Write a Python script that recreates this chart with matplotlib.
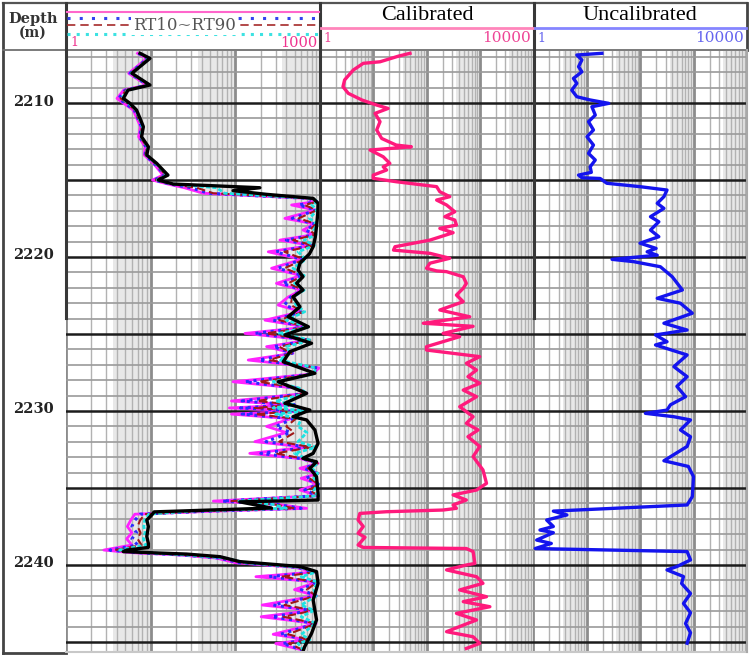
import matplotlib.pyplot as plt
from matplotlib.transforms import blended_transform_factory

# ---- depth / resistivity picks (ohm.m) ----
# RT90 (deep, black)
rt90_depth = [2206.77, 2207.10, 2208.07, 2208.83, 2209.16, 2209.70, 2210.02, 2210.45, 2211.00,
              2211.54, 2212.19, 2212.84, 2213.38, 2213.92, 2214.35, 2214.68, 2215.00, 2215.26,
              2215.50, 2215.69, 2215.93, 2216.19, 2216.51, 2217.20, 2218.00, 2218.70, 2219.33,
              2219.80, 2220.20, 2220.40, 2220.84, 2221.28, 2221.70, 2222.14, 2222.58, 2223.23,
              2223.88, 2224.53, 2225.06, 2225.60, 2226.15, 2226.80, 2227.55, 2228.10, 2228.85,
              2229.50, 2229.94, 2230.37, 2230.58, 2231.23, 2232.10, 2232.75, 2233.07, 2233.30,
              2233.72, 2234.27, 2235.35, 2235.78, 2235.90, 2236.30, 2236.55, 2236.75, 2237.08,
              2237.50, 2238.15, 2238.60, 2238.86, 2239.03, 2239.13, 2239.20, 2239.29, 2239.46,
              2239.78, 2240.10, 2240.43, 2241.19, 2242.27, 2243.57, 2244.44, 2245.30, 2245.50]
rt90 = [7.5, 9.8, 6.0, 9.8, 5.4, 4.75, 5.7, 6.8, 7.5,
        8.2, 7.8, 9.4, 9.0, 11.8, 14, 16, 12.3, 18.5,
        195, 94, 235, 830, 950, 940, 910, 880, 830,
        750, 630, 580, 550, 630, 530, 630, 480, 580,
        420, 730, 385, 795, 440, 368, 870, 321, 695,
        385, 760, 480, 695, 870, 950, 830, 630, 910,
        760, 910, 950, 950, 113, 267, 11, 10.3, 9.0,
        9.4, 9.0, 9.4, 9.4, 5.2, 4.75, 9.8, 26.6, 66,
        113, 580, 910, 950, 830, 910, 795, 660, 640]

# RT10 / RT20 / RT30 / RT60 share one depth list
rt_depth = [2206.77, 2207.10, 2208.07, 2208.83, 2209.16, 2209.70, 2210.02, 2210.45, 2211.54, 2212.19,
            2212.84, 2213.38, 2213.92, 2214.35, 2214.68, 2215.00, 2215.26, 2215.50, 2215.86, 2216.19,
            2216.40, 2216.62, 2216.95, 2217.49, 2217.85, 2218.25, 2218.55, 2218.90, 2219.25, 2219.66,
            2220.15, 2220.73, 2221.20, 2221.71, 2222.15, 2222.60, 2223.12, 2223.55, 2224.10, 2224.55,
            2224.96, 2225.40, 2225.82, 2226.25, 2226.69, 2227.20, 2227.60, 2228.10, 2228.50, 2228.85,
            2229.35, 2229.60, 2229.80, 2230.00, 2230.20, 2230.50, 2231.00, 2231.40, 2231.99, 2232.35,
            2232.75, 2233.10, 2233.40, 2233.72, 2234.05, 2234.37, 2234.75, 2235.13, 2235.50, 2235.85,
            2236.05, 2236.32, 2236.50, 2236.70, 2237.10, 2237.50, 2237.90, 2238.30, 2238.70, 2239.03,
            2239.20, 2239.35, 2239.55, 2239.85, 2240.15, 2240.45, 2240.76, 2241.10, 2241.60, 2242.00,
            2242.60, 2242.95, 2243.36, 2243.80, 2244.50, 2244.85, 2245.10, 2245.50]
rt10 = [7.0, 9.0, 5.5, 9.0, 4.8, 4.0, 4.8, 6.2, 7.6, 7.2,
        8.6, 8.4, 10.8, 12.5, 14.0, 10.5, 16, 25, 42, 700,
        900, 462, 880, 385, 860, 630, 850, 336, 800, 245,
        600, 268, 600, 306, 600, 420, 321, 600, 224, 700,
        130, 750, 234, 480, 142, 980, 800, 94, 500, 700,
        90, 500, 85, 600, 90, 450, 234, 400, 170, 700,
        148, 600, 950, 580, 950, 600, 960, 580, 960, 55,
        300, 695, 60, 6.5, 5.8, 5.3, 6.0, 5.2, 6.0, 2.8,
        6.0, 22, 60, 100, 500, 880, 175, 930, 500, 900,
        208, 820, 202, 900, 280, 700, 300, 600]
rt20 = [7.2, 9.2, 5.7, 9.2, 5.0, 4.2, 5.0, 6.4, 7.8, 7.4,
        8.8, 8.6, 11.0, 13.0, 14.5, 11.0, 17, 30, 48, 740,
        920, 560, 900, 470, 880, 680, 870, 400, 820, 300,
        620, 320, 620, 360, 620, 450, 380, 620, 280, 710,
        170, 760, 280, 470, 190, 950, 810, 130, 520, 700,
        120, 500, 115, 620, 120, 480, 300, 450, 230, 750,
        200, 620, 950, 650, 950, 680, 960, 660, 960, 70,
        300, 600, 50, 7.5, 6.5, 6.0, 6.8, 6.0, 7.0, 3.3,
        7.0, 24, 65, 110, 540, 890, 250, 930, 600, 900,
        280, 830, 270, 900, 340, 720, 360, 610]
rt30 = [7.3, 9.4, 5.8, 9.5, 5.1, 4.4, 5.3, 6.5, 7.9, 7.5,
        9.0, 8.7, 11.3, 13.3, 15.0, 11.5, 17.5, 35, 55, 780,
        940, 650, 920, 560, 900, 750, 880, 480, 840, 380,
        650, 380, 640, 420, 640, 470, 450, 640, 330, 720,
        230, 770, 330, 460, 250, 920, 820, 190, 540, 700,
        180, 500, 170, 640, 170, 520, 400, 500, 330, 800,
        300, 640, 940, 720, 950, 750, 960, 740, 960, 90,
        280, 500, 40, 8.5, 7.5, 7.0, 7.6, 7.0, 7.8, 3.8,
        8.0, 25, 70, 120, 560, 900, 350, 930, 700, 900,
        380, 840, 370, 900, 420, 740, 430, 620]
rt60 = [7.4, 9.6, 5.9, 9.6, 5.3, 4.6, 5.5, 6.7, 8.0, 7.7,
        9.2, 8.9, 11.5, 13.7, 15.5, 12.0, 18, 60, 75, 800,
        950, 800, 930, 750, 920, 850, 900, 650, 860, 550,
        680, 480, 650, 500, 650, 480, 520, 660, 400, 730,
        330, 780, 400, 450, 330, 890, 840, 280, 560, 700,
        300, 500, 280, 700, 300, 600, 550, 700, 550, 900,
        500, 700, 930, 800, 940, 850, 950, 850, 950, 110,
        270, 400, 30, 9.5, 8.5, 8.3, 8.6, 8.2, 8.8, 4.3,
        9.0, 26, 75, 130, 580, 910, 600, 930, 850, 900,
        600, 850, 600, 900, 600, 760, 550, 630]

# calibrated array resistivity
cal_depth = [2206.77, 2206.95, 2207.32, 2207.42, 2207.86, 2208.50, 2208.94, 2209.37, 2209.80, 2210.13,
             2210.35, 2210.67, 2211.21, 2211.75, 2212.30, 2212.73, 2212.84, 2213.05, 2213.49, 2213.92,
             2214.14, 2214.35, 2214.68, 2214.89, 2215.11, 2215.43, 2215.76, 2216.08, 2216.30, 2216.62,
             2217.06, 2217.38, 2217.60, 2217.92, 2218.14, 2218.42, 2218.90, 2219.33, 2219.55, 2219.76,
             2220.08, 2220.40, 2220.73, 2220.90, 2220.95, 2221.28, 2221.71, 2222.03, 2222.47, 2222.90,
             2223.44, 2223.88, 2224.30, 2224.50, 2224.96, 2225.17, 2225.82, 2226.04, 2226.47, 2226.90,
             2227.34, 2227.77, 2228.20, 2228.64, 2229.07, 2229.72, 2230.37, 2230.80, 2231.23, 2231.67,
             2232.30, 2232.96, 2233.83, 2234.70, 2235.13, 2235.45, 2235.78, 2236.10, 2236.32, 2236.43,
             2236.54, 2236.65, 2237.08, 2237.50, 2237.94, 2238.20, 2238.70, 2238.86, 2238.93, 2239.13,
             2239.90, 2240.00, 2240.32, 2240.76, 2241.19, 2241.62, 2242.06, 2242.38, 2242.71, 2243.14,
             2243.57, 2244.33, 2244.66, 2245.09, 2245.42]
cal = [49, 30, 13.4, 6.5, 4.2, 2.9, 2.7, 3.4, 6.1, 11.6,
       19, 10.8, 13.4, 11.6, 14.4, 27, 52, 8.7, 15.4, 20.5,
       15.4, 17.8, 10, 10, 27, 155, 178, 274, 155, 238,
       340, 221, 340, 365, 178, 316, 116, 25.6, 24, 116,
       274, 116, 100, 155, 238, 490, 560, 490, 365, 490,
       178, 650, 87, 750, 205, 420, 100, 100, 1000, 560,
       870, 600, 1000, 490, 870, 420, 750, 560, 930, 600,
       1000, 750, 1150, 1340, 870, 316, 560, 316, 365, 205,
       17.8, 5.6, 5.2, 6.5, 5.2, 7.0, 5.2, 6.5, 560, 750,
       810, 560, 238, 870, 1150, 420, 1340, 490, 1550, 365,
       870, 238, 750, 1000, 560]

# uncalibrated array resistivity
unc_depth = [2206.77, 2206.88, 2207.20, 2207.64, 2207.97, 2208.40, 2208.72, 2209.16, 2209.59, 2209.80,
             2210.02, 2210.24, 2210.78, 2211.21, 2211.75, 2212.19, 2212.73, 2213.27, 2213.70, 2214.14,
             2214.50, 2214.68, 2214.85, 2214.90, 2215.21, 2215.43, 2215.65, 2216.08, 2216.51, 2216.84,
             2217.38, 2217.71, 2218.25, 2218.68, 2219.10, 2219.44, 2219.66, 2219.88, 2220.15, 2220.30,
             2220.63, 2221.28, 2222.14, 2222.68, 2223.00, 2223.65, 2224.30, 2224.74, 2225.06, 2225.50,
             2225.71, 2226.36, 2227.12, 2227.77, 2228.40, 2229.07, 2229.60, 2229.94, 2230.15, 2230.37,
             2230.58, 2231.23, 2231.67, 2232.30, 2233.23, 2233.60, 2234.26, 2235.56, 2236.10, 2236.50,
             2236.75, 2237.08, 2237.50, 2237.73, 2237.90, 2238.38, 2238.60, 2238.93, 2239.13, 2239.67,
             2240.10, 2240.32, 2240.75, 2241.20, 2241.85, 2242.50, 2243.10, 2243.80, 2244.40, 2245.08]
unc = [19.4, 6.6, 8.2, 7.1, 8.2, 5.7, 6.6, 5.3, 6.6, 11.7,
       26, 12.6, 14.6, 10.9, 13.5, 10.2, 13.5, 10.9, 14.6, 11.7,
       12.3, 7.1, 8.2, 18, 24, 100, 320, 280, 210, 280,
       157, 225, 157, 225, 100, 200, 136, 210, 30, 76,
       240, 400, 620, 210, 570, 950, 280, 760, 195, 320,
       195, 760, 430, 760, 490, 710, 370, 320, 126, 430,
       880, 570, 880, 760, 280, 800, 1000, 950, 760, 2.4,
       4.3, 1.8, 2.4, 1.35, 2.4, 1.17, 2.2, 1.1, 760, 880,
       490, 320, 650, 600, 880, 650, 880, 710, 880, 760]

depth_labels = [2210, 2220, 2230, 2240]

# ---- layout (pixels of a 750 x 659 canvas) ----
W, H = 750, 659
TOP, BOT = 51, 652
D_TOP, D_BOT = 2206.62, 2245.65

fig = plt.figure(figsize=(7.5, 6.59), dpi=100)


def add_track(x0, x1):
    ax = fig.add_axes([x0 / W, 1 - BOT / H, (x1 - x0) / W, (BOT - TOP) / H])
    ax.set_ylim(D_BOT, D_TOP)
    for s in ax.spines.values():
        s.set_visible(False)
    ax.set_xticks([])
    ax.set_yticks([])
    return ax


def log_grid(ax, ndec):
    ax.set_xscale('log')
    ax.set_xlim(1, 10 ** ndec)
    ax.set_xticks([], minor=True)
    ax.set_xticks([])
    for k in range(ndec):
        base = 10 ** k
        ax.axvspan(3.6 * base, 10 * base, color='#e8e8e8', lw=0, zorder=0)
        for m in range(2, 10):
            ax.axvline(m * base, color='#b2b2b2', lw=1.0, zorder=1)
        ax.axvline(base, color='#8c8c8c', lw=2.0, zorder=1)
    for d in range(2207, 2246):
        if d % 5 == 0:
            ax.axhline(d, color='#1c1c1c', lw=1.8, zorder=2)
        else:
            ax.axhline(d, color='#9a9a9a', lw=1.2, zorder=1)


ax_d = add_track(3, 66)
ax1 = add_track(66, 320)
ax2 = add_track(320, 533)
ax3 = add_track(533, 747)

log_grid(ax1, 3)
log_grid(ax2, 4)
log_grid(ax3, 4)

# track 1: RT10 ~ RT90
ax1.plot(rt10, rt_depth, color='#ff22ff', lw=2.0, zorder=3, solid_joinstyle='round')
ax1.plot(rt20, rt_depth, color='#2b2bff', lw=2.2, ls=(0, (1, 1.5)), zorder=4)
ax1.plot(rt30, rt_depth, color='#a01818', lw=1.5, ls=(0, (4, 2)), zorder=5)
ax1.plot(rt60, rt_depth, color='#1de3e3', lw=2.0, ls=(0, (1.5, 0.8)), zorder=6)
ax1.plot(rt90, rt90_depth, color='black', lw=2.4, zorder=7, solid_joinstyle='round')

# tracks 2 and 3
ax2.plot(cal, cal_depth, color='#ff1a7c', lw=2.4, zorder=5, solid_joinstyle='round')
ax3.plot(unc, unc_depth, color='#1414ee', lw=2.4, zorder=5, solid_joinstyle='round')

# depth labels
tr = blended_transform_factory(ax_d.transAxes, ax_d.transData)
for d in depth_labels:
    ax_d.text(0.49, d - 0.1, str(d), transform=tr, ha='center', va='center',
              family='DejaVu Serif', weight='bold', fontsize=10.5, color='#222222')

# ---- overlay: frame and header in pixel units ----
ov = fig.add_axes([0, 0, 1, 1], zorder=10)
ov.set_xlim(0, W)
ov.set_ylim(H, 0)
ov.axis('off')
ov.patch.set_alpha(0)

ov.plot([3, 747], [3, 3], color='#555555', lw=1.6)
ov.plot([3, 3], [3, 653], color='#444444', lw=2.0)
ov.plot([3, 66], [653, 653], color='#444444', lw=2.0)
ov.plot([66, 747], [652, 652], color='#c8c8c8', lw=1.5)
ov.plot([3, 747], [50, 50], color='#6f6f6f', lw=1.3)
ov.plot([747, 747], [3, 50], color='#444444', lw=2.0)
ov.plot([747, 747], [50, 652], color='#a8a8a8', lw=1.5)
for x in [66, 320, 534]:
    ov.plot([x, x], [3, 318], color='#383838', lw=2.2)

# header, depth column
ov.text(33, 19, 'Depth', ha='center', va='center', family='DejaVu Serif',
        weight='bold', fontsize=10.5, color='#333333')
ov.text(33, 33, '(m)', ha='center', va='center', family='DejaVu Serif',
        weight='bold', fontsize=10, color='#333333')

# header, RT10~RT90
ov.plot([67, 319], [12, 12], color='#ff66cc', lw=1.5)
ov.plot([67, 319], [18, 18], color='#3344ee', lw=2.2, ls=(0, (1, 3)))
ov.plot([67, 319], [25, 25], color='#a52a2a', lw=1.2, ls=(0, (5, 3)))
ov.plot([67, 319], [34, 34], color='#3de2e2', lw=2.2, ls=(0, (1, 2)))
ov.text(184, 25, 'RT10~RT90', ha='center', va='center', family='DejaVu Serif',
        fontsize=12, color='#555555',
        bbox=dict(facecolor='white', edgecolor='none', pad=1))
ov.text(70, 43, '1', ha='left', va='center', family='DejaVu Serif',
        fontsize=9, color='#f0338f')
ov.text(318, 43, '1000', ha='right', va='center', family='DejaVu Serif',
        fontsize=10.5, color='#f0338f')

# header, calibrated / uncalibrated
ov.text(427, 16, 'Calibrated', ha='center', va='center', family='Liberation Serif',
        fontsize=16, color='black')
ov.plot([321, 533], [28, 28], color='#ff85bb', lw=2.0)
ov.text(323, 38, '1', ha='left', va='center', family='DejaVu Serif',
        fontsize=9, color='#ee4596')
ov.text(531, 38, '10000', ha='right', va='center', family='DejaVu Serif',
        fontsize=11, color='#ee4596')

ov.text(640, 16, 'Uncalibrated', ha='center', va='center', family='Liberation Serif',
        fontsize=16, color='black')
ov.plot([535, 746], [28, 28], color='#8585ff', lw=2.0)
ov.text(537, 38, '1', ha='left', va='center', family='DejaVu Serif',
        fontsize=9, color='#6464ee')
ov.text(744, 38, '10000', ha='right', va='center', family='DejaVu Serif',
        fontsize=11, color='#6464ee')

fig.savefig('out.png', dpi=100)
